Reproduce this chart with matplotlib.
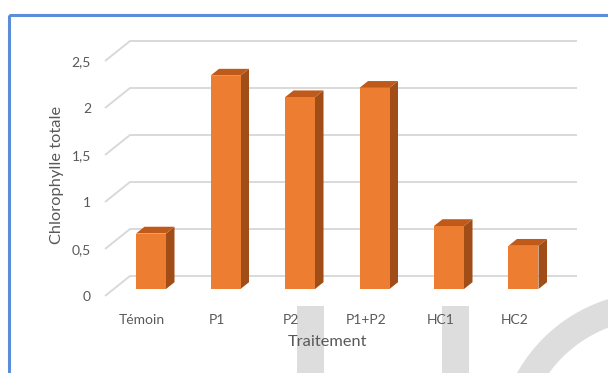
import matplotlib
matplotlib.use("Agg")
import matplotlib.pyplot as plt
from matplotlib.patches import Polygon, Rectangle, Wedge
import numpy as np

# ---- data ----
categories = ["Témoin", "P1", "P2", "P1+P2", "HC1", "HC2"]
values = [0.59, 2.27, 2.04, 2.14, 0.67, 0.46]
yticks = [0, 0.5, 1, 1.5, 2, 2.5]
ytick_labels = ["0", "0,5", "1", "1,5", "2", "2,5"]
xlabel = "Traitement"
ylabel = "Chlorophylle totale"

plt.rcParams['font.family'] = ['Lato', 'DejaVu Sans']
W, H = 608, 373
fig = plt.figure(figsize=(W / 100, H / 100), dpi=100)
fig.patch.set_facecolor("white")

# watermark shapes (figure pixel coords)
bg = fig.add_axes([0, 0, 1, 1])
bg.set_xlim(0, W)
bg.set_ylim(H, 0)
bg.axis("off")
wm = "#dddddd"
bg.add_patch(Rectangle((297, 306), 27, 80, color=wm, lw=0))
bg.add_patch(Rectangle((442, 306), 27, 80, color=wm, lw=0))
bg.add_patch(Wedge((655, 450), 158, 180, 290, width=27, color=wm, lw=0))
# blue frame
bg.add_patch(Rectangle((8.5, 15), 620, 400, fill=False, ec="#5b8ed8", lw=2.2))

# main axes: front floor edge at y=296px, back wall right edge at x=577px
n = len(categories)
slot_px = 74.5
depth_px_x, depth_px_y = 25, 20
unit_px = 94.0
ddx = depth_px_x / slot_px
ddy = depth_px_y / unit_px
left_px, right_px = 105, 577
bottom_px = 296
top_val = yticks[-1] + ddy
ax = fig.add_axes([left_px / W, (H - bottom_px) / H,
                   (right_px - left_px) / W, top_val * unit_px / H])
ax.set_xlim(0, n + ddx)
ax.set_ylim(0, top_val)
for s in ax.spines.values():
    s.set_visible(False)
ax.patch.set_alpha(0)

grid_c = "#d9d9d9"
for v in yticks:
    ax.plot([0, ddx, n + ddx], [v, v + ddy, v + ddy], color=grid_c, lw=1.4,
            zorder=1, clip_on=False, solid_capstyle="butt")

bw = 30 / slot_px
t0 = 0.35
bd = 0.34
front_c, top_c, side_c = "#ed7d31", "#c05a1a", "#a04d17"
for i, v in enumerate(values):
    x0 = i + (1 - bw) / 2 + t0 * ddx
    y0 = t0 * ddy
    y1 = y0 + v
    sx, sy = bd * ddx, bd * ddy
    ax.add_patch(Polygon([(x0 + bw, y0), (x0 + bw + sx, y0 + sy),
                          (x0 + bw + sx, y1 + sy), (x0 + bw, y1)],
                         closed=True, fc=side_c, ec="none", zorder=3))
    ax.add_patch(Polygon([(x0, y1), (x0 + bw, y1), (x0 + bw + sx, y1 + sy),
                          (x0 + sx, y1 + sy)],
                         closed=True, fc=top_c, ec="none", zorder=3))
    ax.add_patch(Rectangle((x0, y0), bw, v, fc=front_c, ec="none", zorder=4))

txt_c = "#595959"
ax.set_yticks(yticks)
ax.set_yticklabels(ytick_labels)
ax.set_xticks([i + 0.5 for i in range(n)])
ax.set_xticklabels(categories)
ax.tick_params(axis="y", length=0, pad=10, labelsize=10, labelcolor=txt_c)
ax.tick_params(axis="x", length=0, pad=13, labelsize=10, labelcolor=txt_c)

fig.text(327 / W, 1 - 342 / H, xlabel, fontsize=11.8, color=txt_c,
         ha="center", va="center")
fig.text(57 / W, 1 - 175 / H, ylabel, fontsize=11.8, color=txt_c,
         ha="center", va="center", rotation=90)

fig.savefig("out.png", dpi=100, facecolor="white")
